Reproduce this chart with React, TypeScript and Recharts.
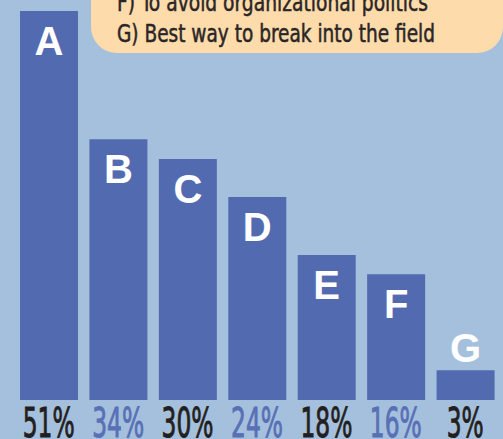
import { Bar, BarChart, Customized, LabelList, XAxis, YAxis } from "recharts";

const letters = ["A", "B", "C", "D", "E", "F", "G"];
// bar heights (percentage scale)
const barValues = [51, 34.2, 31.6, 26.6, 19, 16.5, 3.9];
const pctLabels = ["51%", "34%", "30%", "24%", "18%", "16%", "3%"];
const legendLines = [
  "F) To avoid organizational politics",
  "G) Best way to break into the field"
];

const BG = "#a5c0dd";
const BAR = "#526bb0";
const PEACH = "#fddbaa";
const DARK = "#231f20";
const BLUE_TXT = "#5870b5";
const NARROW = "'Liberation Sans Narrow', 'Arial Narrow', 'DejaVu Sans Condensed', sans-serif";

const data = letters.map((letter, i) => ({
  letter,
  value: barValues[i],
  pct: pctLabels[i]
}));

function PctTick(props: any) {
  const { x, payload } = props;
  const i = payload.index;
  const label = pctLabels[i];
  const color = i % 2 === 0 ? DARK : BLUE_TXT;
  return (
    <text
      x={x}
      y={437}
      textAnchor="middle"
      fontFamily={NARROW}
      fontSize={41}
      fill={color}
      stroke={color}
      strokeWidth={0.9}
      textLength={label.length > 2 ? 52 : 37}
      lengthAdjust="spacingAndGlyphs"
    >
      {label}
    </text>
  );
}

function LetterLabel(props: any) {
  const { x, y, width, height, value } = props;
  const cx = Number(x) + Number(width) / 2;
  const by = Number(height) > 60 ? Number(y) + 44 : Number(y) - 8;
  return (
    <text
      x={cx}
      y={by}
      textAnchor="middle"
      fontFamily="'Liberation Sans', Arial, sans-serif"
      fontWeight="bold"
      fontSize={40}
      fill="#ffffff"
    >
      {value}
    </text>
  );
}

function LegendBox() {
  return (
    <g>
      <rect x={91} y={-40} width={412} height={93} rx={26} fill={PEACH} />
      {legendLines.map((line, i) => (
        <text
          key={line}
          x={117}
          y={11 + i * 31}
          fontFamily={NARROW}
          fontSize={24}
          fill="#2a2627"
          stroke="#2a2627"
          strokeWidth={0.5}
          textLength={i === 0 ? 311 : 318}
          lengthAdjust="spacingAndGlyphs"
        >
          {line}
        </text>
      ))}
    </g>
  );
}

export default function App() {
  return (
    <div style={{ position: "absolute", left: 0, top: 0, width: 503, height: 439, background: BG, overflow: "hidden" }}>
      <BarChart width={503} height={439} data={data} margin={{ top: 11, right: 3, bottom: 0, left: 14 }}>
        <XAxis
          dataKey="letter"
          axisLine={false}
          tickLine={false}
          height={39}
          interval={0}
          tick={<PctTick />}
        />
        <YAxis hide domain={[0, 51]} />
        <Bar dataKey="value" fill={BAR} barSize={58} isAnimationActive={false}>
          <LabelList dataKey="letter" content={<LetterLabel />} />
        </Bar>
        <Customized component={<LegendBox />} />
      </BarChart>
    </div>
  );
}
